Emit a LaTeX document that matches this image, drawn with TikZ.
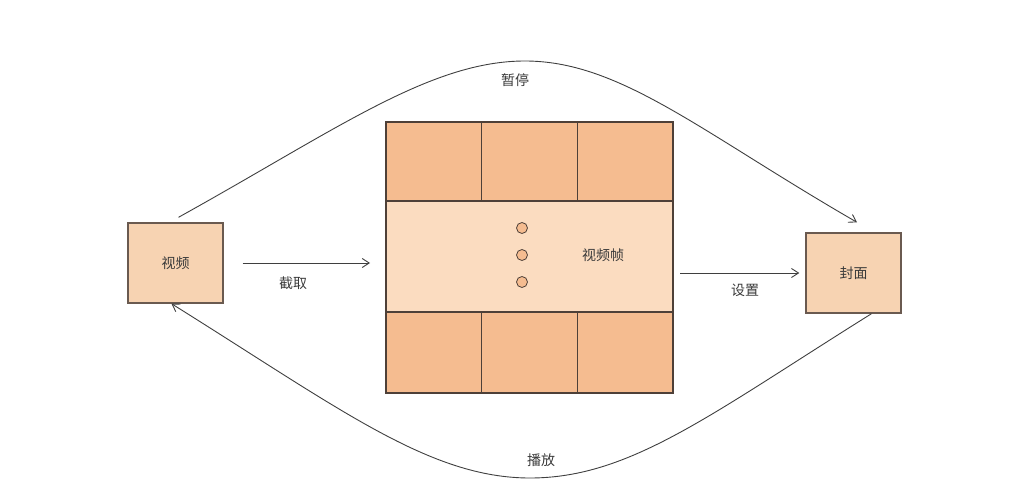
\documentclass[tikz,border=0pt]{standalone}
\usepackage{fontspec}
\setmainfont{Noto Sans CJK SC}
\usepackage{tikz}
\usetikzlibrary{arrows.meta}
\usetikzlibrary{positioning}
\definecolor{cellorange}{HTML}{F5BC90}
\definecolor{bandorange}{HTML}{FBDCC0}
\definecolor{boxorange}{HTML}{F7D3B2}
\definecolor{edgebrown}{HTML}{4E4038}
\definecolor{boxbrown}{HTML}{6A5A50}
\definecolor{arrowgray}{HTML}{3F3F3F}
\definecolor{textgray}{HTML}{3A3A3A}

\begin{document}
\begin{tikzpicture}[x=1pt,y=1pt,
    cell/.style={draw=edgebrown,line width=1.4pt,fill=cellorange,inner sep=0pt,outer sep=0pt,
      minimum width=95.67pt},
    srcbox/.style={draw=boxbrown,line width=1.4pt,fill=boxorange,inner sep=0pt,
      minimum width=95pt,minimum height=80pt,font=\fontsize{14}{16}\selectfont,text=textgray},
    dot/.style={circle,draw=edgebrown,line width=0.8pt,fill=cellorange,inner sep=0pt,minimum size=11pt},
    tag/.style={font=\fontsize{14}{16}\selectfont,text=textgray},
    flow/.style={draw=arrowgray,line width=0.9pt,-{Straight Barb[length=7pt,width=9pt]}}
  ]
  \useasboundingbox (0,0) rectangle (1010,-500);

  % frame with the middle band
  \node[draw=edgebrown,line width=2pt,fill=bandorange,inner sep=0pt,outer sep=0pt,
    minimum width=287pt,minimum height=271pt] (frame) at (529.5,-257.5) {};

  \node[cell,minimum height=79pt,anchor=north west] (t1) at (frame.north west) {};
  \node[cell,minimum height=79pt,right=0pt of t1] (t2) {};
  \node[cell,minimum height=79pt,right=0pt of t2] (t3) {};

  \node[cell,minimum height=81pt,anchor=south west] (b1) at (frame.south west) {};
  \node[cell,minimum height=81pt,right=0pt of b1] (b2) {};
  \node[cell,minimum height=81pt,right=0pt of b2] (b3) {};

  \draw[edgebrown,line width=2pt] (frame.north west) rectangle (frame.south east);

  \foreach \y [count=\i] in {228,255,282}
    \node[dot] (d\i) at (522,-\y) {};
  \node[tag] (framelabel) at (603,-255) {视频帧};

  \node[srcbox] (video) at (175.5,-263) {视频};
  \node[srcbox] (cover) at (853.5,-273) {封面};

  \draw[flow,shorten <=19pt,shorten >=16pt] (video.east) -- (frame.west |- video.east);
  \node[tag] (cutlabel) at (293,-283) {截取};

  \draw[flow,shorten <=7pt,shorten >=6pt] (frame.east |- cover.west) -- (cover.west);
  \node[tag] (setlabel) at (745,-290) {设置};

  \coordinate (pausetop) at (525,-61);
  \draw[flow] ([xshift=3pt,yshift=5pt]video.north) .. controls +(29:180) and +(-95,0) .. (pausetop)
    .. controls +(95,0) and +(150:180) .. ([xshift=3.5pt,yshift=10pt]cover.north);
  \node[tag] (pauselabel) at (515,-80) {暂停};

  \coordinate (playbottom) at (530,-478);
  \draw[flow] ([xshift=18pt]cover.south) .. controls +(212:190) and +(100,0) .. (playbottom)
    .. controls +(-100,0) and +(-32:200) .. ([xshift=-4pt]video.south);
  \node[tag] (playlabel) at (541,-460) {播放};
\end{tikzpicture}
\end{document}
